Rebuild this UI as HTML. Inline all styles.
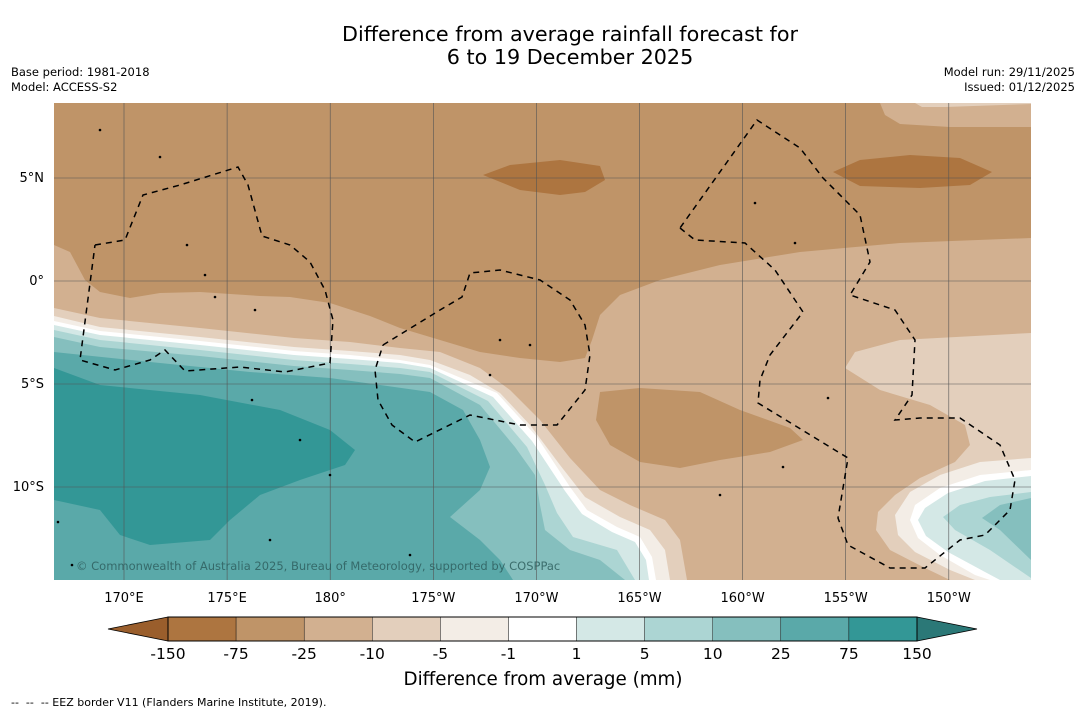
<!DOCTYPE html>
<html><head><meta charset="utf-8"><style>
body{margin:0;background:#fff;width:1085px;height:713px;overflow:hidden;font-family:"Liberation Sans","DejaVu Sans",sans-serif}
svg text{font-family:"DejaVu Sans","Liberation Sans",sans-serif}
</style></head><body>
<svg id="chart" width="1085" height="713" viewBox="0 0 1085 713" xmlns="http://www.w3.org/2000/svg">
<text x="570" y="41" font-size="20.7" text-anchor="middle" fill="#000">Difference from average rainfall forecast for</text>
<text x="570" y="64" font-size="20.7" text-anchor="middle" fill="#000">6 to 19 December 2025</text>
<text x="11" y="76" font-size="11.5">Base period: 1981-2018</text>
<text x="11" y="91" font-size="11.5">Model: ACCESS-S2</text>
<text x="1075" y="76" font-size="11.5" text-anchor="end">Model run: 29/11/2025</text>
<text x="1075" y="91" font-size="11.5" text-anchor="end">Issued: 01/12/2025</text>
<defs><clipPath id="mapclip"><rect x="54" y="103" width="977" height="477"/></clipPath></defs>
<g id="map" clip-path="url(#mapclip)"></g>
<g id="axes"></g>
<g id="cbar"></g>
<text x="543" y="685" font-size="18.3" text-anchor="middle">Difference from average (mm)</text>
<text x="11" y="706" font-size="11" style="white-space:pre" xml:space="preserve">--  --  -- EEZ border V11 (Flanders Marine Institute, 2019).</text>
</svg>
<script>
// colorbar data
const binTicks = ["-150","-75","-25","-10","-5","-1","1","5","10","25","75","150"];
const binColors = ["#ad7540","#bf9468","#d2b090","#e3cfbc","#f3ede6","#ffffff","#d4e8e6","#acd5d3","#85bfbe","#5aa9a9","#339796"];
const extColors = ["#9a5e2c","#2b7877"];
// map axes data
const lonTicks = [170,175,180,-175,-170,-165,-160,-155,-150];
const lonLabels = ["170°E","175°E","180°","175°W","170°W","165°W","160°W","155°W","150°W"];
const latTicks = [5,0,-5,-10];
const latLabels = ["5°N","0°","5°S","10°S"];

const NS="http://www.w3.org/2000/svg";
function mk(tag,attrs,parent){const e=document.createElementNS(NS,tag);for(const k in attrs)e.setAttribute(k,attrs[k]);parent.appendChild(e);return e;}
function xLon(l){const e=l<0?l+360:l;return 124+(e-170)*20.62;}
function yLat(l){return 281-l*20.6;}

const map=document.getElementById('map');
function poly(pts,fill,name){const p=mk('polygon',{points:pts.map(p=>p.join(',')).join(' '),fill:fill},map);

return p;}
const BL=[[54,580]];
const bg=mk('rect',{x:54,y:103,width:977,height:477,fill:binColors[1]},map);


poly([[54,245],[70,252],[85,280],[100,292],[130,298],[160,293],[200,292],[260,296],[290,297],[330,303],[370,316],[400,328],[440,340],[480,352],[520,358],[560,362],[585,358],[592,340],[600,315],[620,295],[660,280],[720,265],[800,252],[900,243],[1031,238],[1031,580],[54,580]],binColors[2],'light-brown-region');
poly([[600,392],[640,388],[700,392],[740,410],[790,428],[803,440],[770,452],[720,460],[680,468],[640,462],[610,445],[596,420]],binColors[1],'dry-blob-east');
poly([[483,175],[510,165],[560,160],[600,166],[605,180],[585,192],[560,195],[520,190]],binColors[0],'very-dry-patch-1');
poly([[833,172],[860,160],[910,155],[960,158],[992,172],[970,185],[920,188],[860,186]],binColors[0],'very-dry-patch-2');
poly([[880,103],[885,115],[900,124],[950,127],[1031,127],[1031,103]],binColors[2],'top-right-light-brown');
poly([[915,103],[922,107],[945,107],[1031,104],[1031,103]],binColors[3],'top-right-cream');
poly([[1031,333],[900,340],[855,352],[845,368],[880,390],[930,405],[965,425],[970,445],[955,462],[920,478],[895,495],[878,512],[876,530],[890,550],[925,568],[950,580],[1031,580]],binColors[3],'east-cream-region');
poly([[1031,458],[980,462],[940,475],[910,492],[895,515],[898,535],[915,552],[950,570],[975,580],[1031,580]],binColors[4],'east-pale-region');
poly([[1031,470],[980,475],[940,488],[915,505],[910,520],[918,538],[940,555],[975,575],[990,580],[1031,580]],binColors[5],'east-white-region');
poly([[1031,476],[985,481],[948,493],[925,508],[918,520],[926,536],[948,552],[985,572],[1000,580],[1031,580]],binColors[6],'east-wet1-region');
poly([[1031,492],[990,497],[960,505],[943,517],[955,530],[990,550],[1031,578]],binColors[7],'east-wet2-region');
poly([[1031,498],[1000,505],[982,518],[1000,530],[1031,560]],binColors[8],'east-wet3-region');
poly([[54,308],[100,318],[200,328],[294,338],[350,342],[400,348],[440,352],[480,368],[510,390],[540,420],[570,458],[600,490],[630,505],[665,520],[680,540],[687,580]].concat(BL),binColors[3],'west-cream-band');
poly([[54,316],[100,327],[200,337],[294,347],[350,351],[400,355],[430,360],[470,375],[500,393],[530,425],[560,465],[585,497],[620,517],[650,530],[665,550],[670,580]].concat(BL),binColors[4],'west-pale-band');
poly([[54,321],[100,331],[200,341],[294,351],[350,355],[400,360],[430,365],[497,393],[537,437],[570,487],[587,510],[617,527],[640,537],[652,557],[656,580]].concat(BL),binColors[5],'west-white-band');
poly([[54,325],[100,335],[200,345],[294,355],[350,359],[400,363],[430,368],[493,397],[532,441],[565,491],[582,514],[612,532],[635,542],[646,560],[649,580]].concat(BL),binColors[6],'west-wet1-band');
poly([[54,330],[100,340],[200,350],[294,360],[350,364],[400,368],[430,372],[488,401],[527,447],[545,485],[557,513],[573,537],[617,550],[635,580]].concat(BL),binColors[7],'west-wet2-band');
poly([[54,337],[100,347],[200,356],[294,366],[350,370],[400,374],[430,378],[480,405],[515,447],[535,475],[540,505],[545,530],[570,550],[600,560],[625,580]].concat(BL),binColors[8],'west-wet3-band');
poly([[54,352],[150,362],[250,372],[330,378],[380,385],[430,392],[463,410],[480,440],[490,467],[480,490],[450,517],[480,540],[500,560],[513,580]].concat(BL),binColors[9],'west-wet4-region');
poly([[54,368],[100,385],[200,395],[280,410],[330,430],[355,450],[345,465],[300,480],[260,495],[230,520],[210,540],[150,545],[120,535],[100,510],[54,500]],binColors[10],'west-very-wet-region');
lonTicks.forEach((l,i)=>{const g=mk('line',{x1:xLon(l),x2:xLon(l),y1:103,y2:580,stroke:'#555','stroke-width':0.6},map);

});
latTicks.forEach(l=>{const g=mk('line',{x1:54,x2:1031,y1:yLat(l),y2:yLat(l),stroke:'#555','stroke-width':0.6},map);

});
const eez=[
[[95,245],[125,240],[143,195],[180,185],[238,167],[248,185],[262,236],[290,245],[310,262],[325,290],[333,320],[330,363],[285,372],[240,367],[185,371],[165,350],[150,360],[115,370],[80,360],[95,245]],
[[383,345],[440,310],[462,297],[470,273],[500,270],[540,280],[570,300],[585,325],[590,355],[585,390],[557,425],[520,425],[470,415],[415,442],[392,425],[378,400],[375,370],[383,345]],
[[680,228],[695,240],[745,243],[775,270],[803,312],[770,355],[760,380],[758,403],[848,458],[838,518],[848,545],[890,568],[925,568],[960,540],[985,535],[1010,510],[1015,480],[1000,445],[960,418],[920,418],[895,420],[912,395],[915,340],[895,310],[850,295],[870,262],[860,215],[823,178],[800,148],[757,120],[680,228]]];
eez.forEach(pts=>{const e=mk('polyline',{points:pts.map(p=>p.join(',')).join(' '),fill:'none',stroke:'#000','stroke-width':1.5,'stroke-dasharray':'6,5'},map);

});
const isl=[[100,130],[160,157],[187,245],[205,275],[215,297],[255,310],[252,400],[300,440],[330,475],[500,340],[530,345],[490,375],[720,495],[755,203],[795,243],[783,467],[828,398],[270,540],[410,555],[72,565],[58,522]];
isl.forEach(p=>{const c=mk('circle',{cx:p[0],cy:p[1],r:1.3,fill:'#000'},map);

});
const cp=mk('text',{x:76,y:570,'font-size':11.5,fill:'#2f5f5f','fill-opacity':0.85},map);
cp.textContent='© Commonwealth of Australia 2025, Bureau of Meteorology, supported by COSPPac';


const ax=document.getElementById('axes');
lonLabels.forEach((t,i)=>{const e=mk('text',{x:xLon(lonTicks[i]),y:602,'font-size':13,'text-anchor':'middle'},ax);e.textContent=t;

});
latLabels.forEach((t,i)=>{const e=mk('text',{x:44,y:yLat(latTicks[i])+4,'font-size':13,'text-anchor':'end'},ax);e.textContent=t;

});
const cb=document.getElementById('cbar');
const x0=168,x1=917,y0=617,h=24,bw=(x1-x0)/binColors.length;
const lt=mk('polygon',{points:`${x0},${y0} 108,${y0+h/2} ${x0},${y0+h}`,fill:extColors[0],stroke:'#000','stroke-width':0.8},cb);


const rt=mk('polygon',{points:`${x1},${y0} 977,${y0+h/2} ${x1},${y0+h}`,fill:extColors[1],stroke:'#000','stroke-width':0.8},cb);


binColors.forEach((c,i)=>{const r=mk('rect',{x:x0+i*bw,y:y0,width:bw,height:h,fill:c,stroke:'#000','stroke-width':0.4},cb);

});
mk('rect',{x:x0,y:y0,width:x1-x0,height:h,fill:'none',stroke:'#000','stroke-width':1},cb);
binTicks.forEach((t,i)=>{const e=mk('text',{x:x0+i*bw,y:659,'font-size':15.5,'text-anchor':'middle'},cb);e.textContent=t;

});
</script>
</body></html>
